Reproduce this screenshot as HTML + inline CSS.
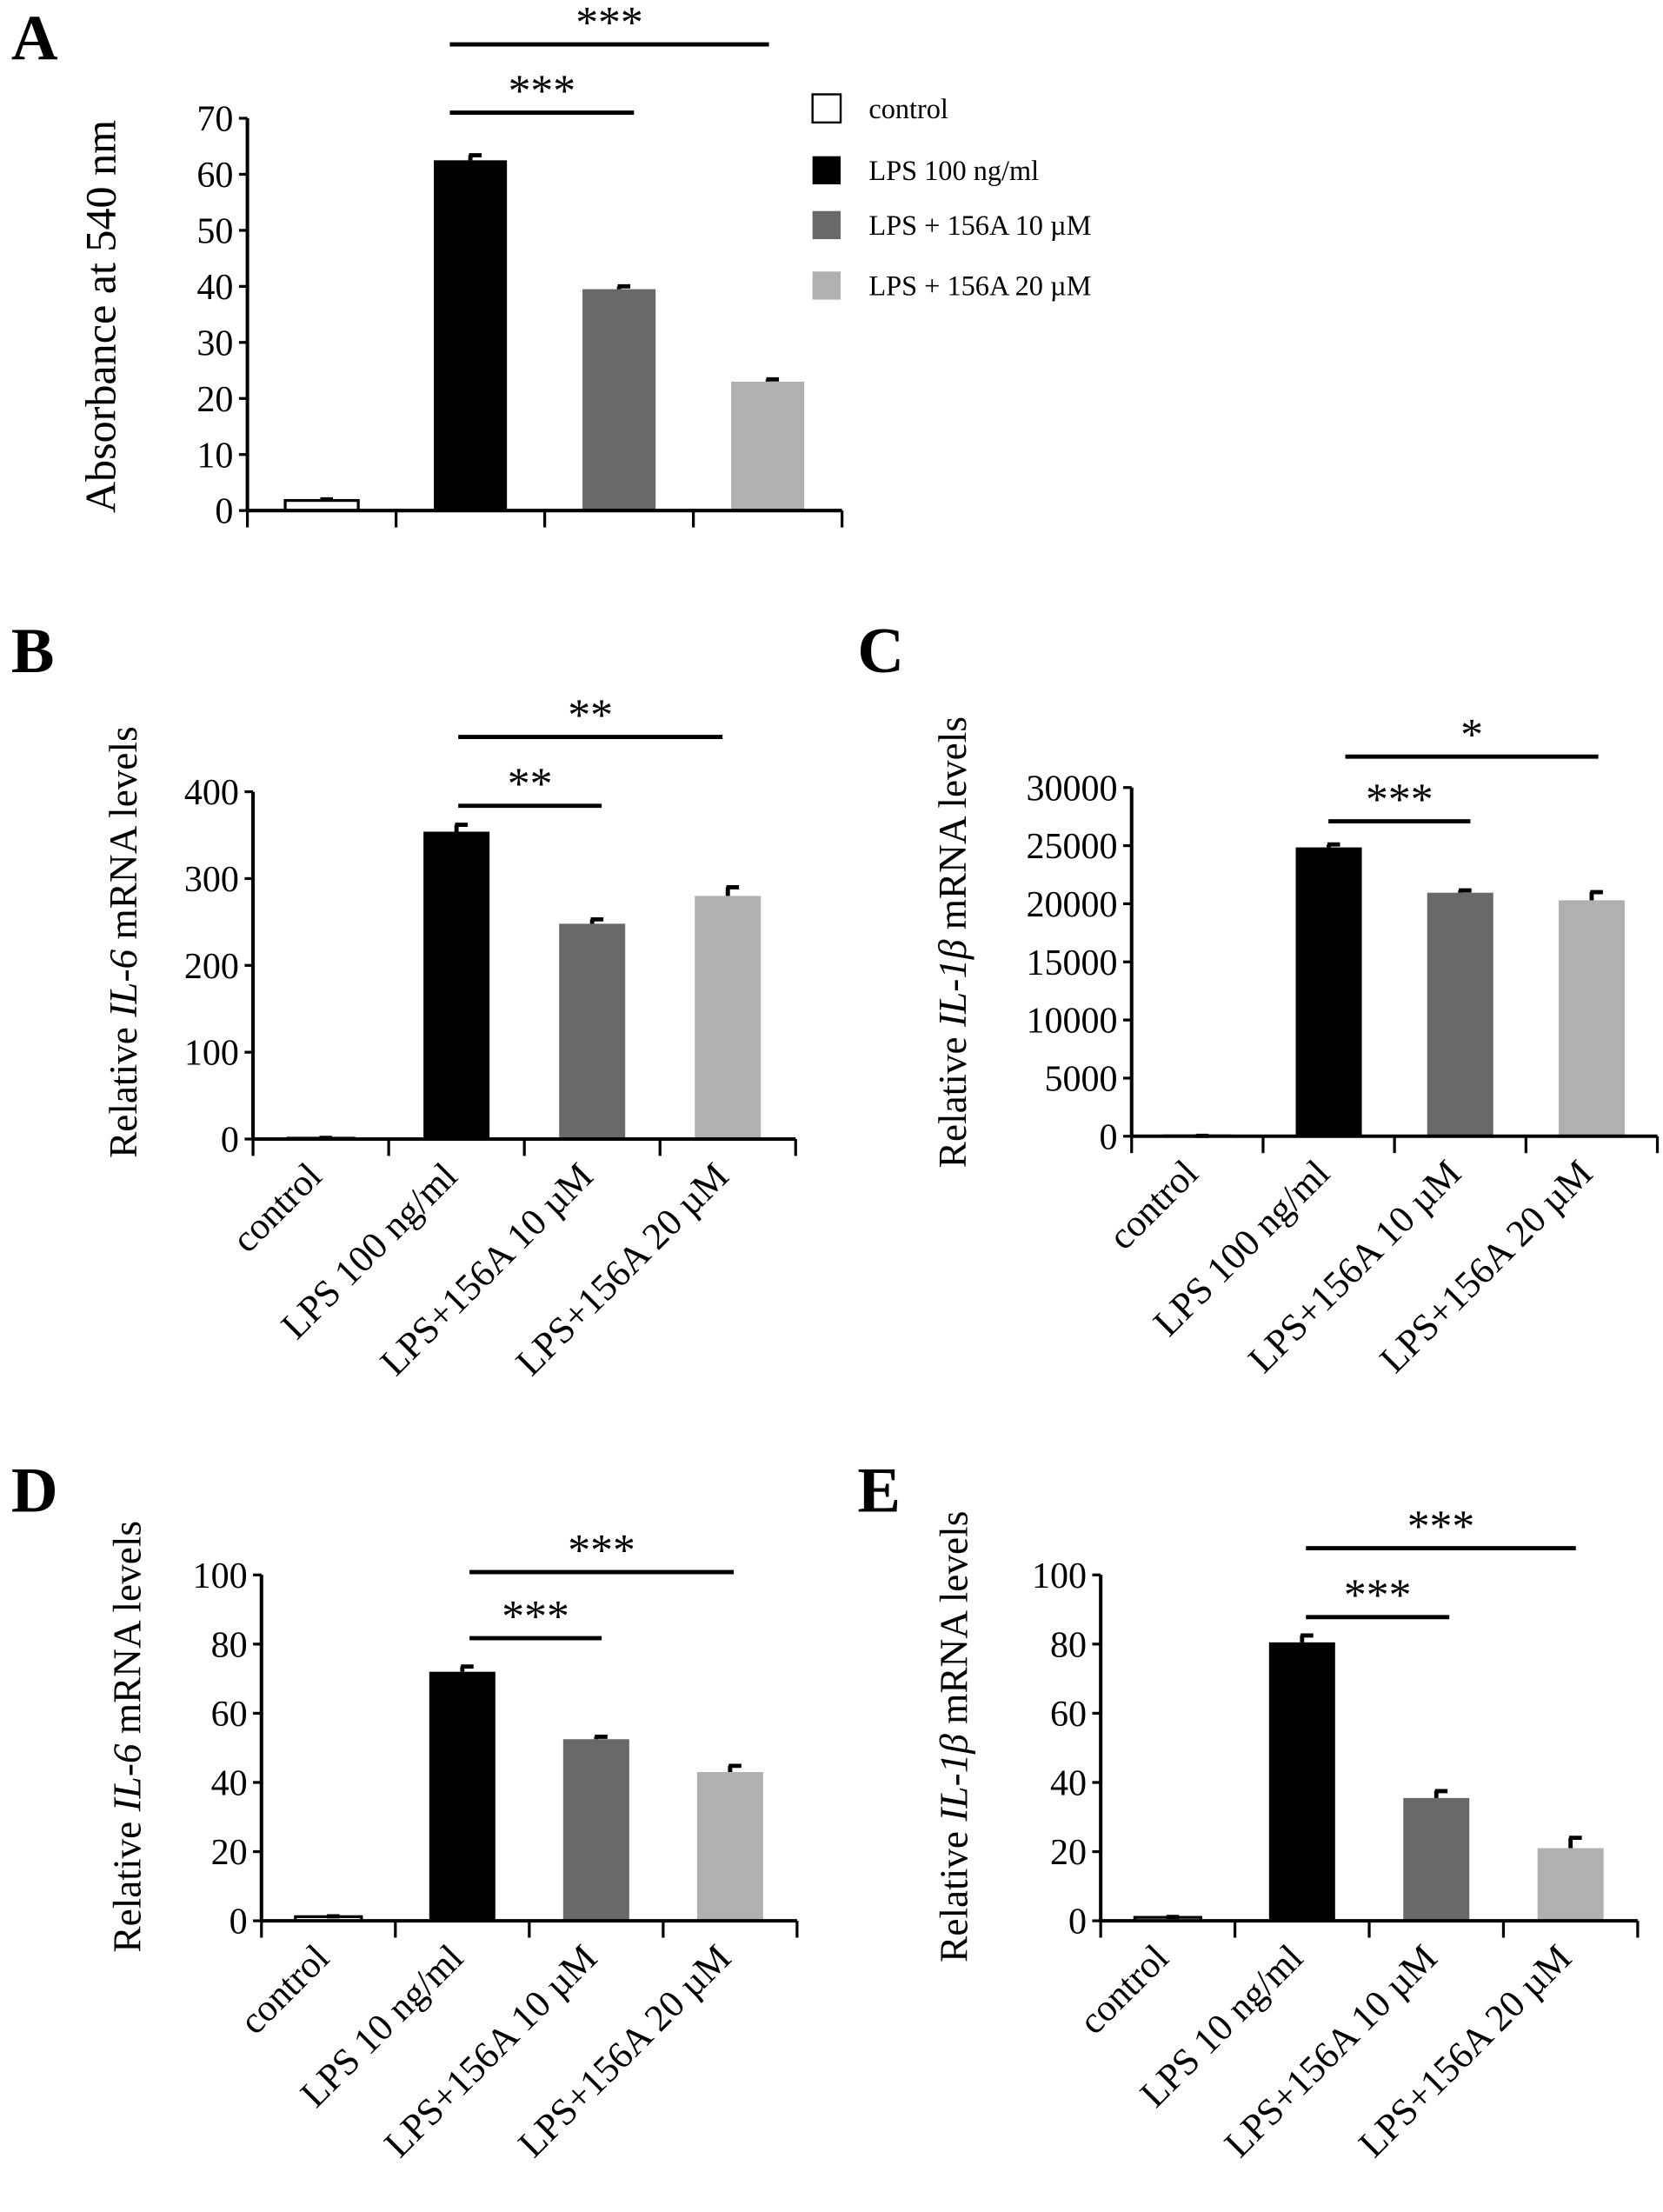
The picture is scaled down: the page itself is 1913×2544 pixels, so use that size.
<!DOCTYPE html>
<html><head><meta charset="utf-8">
<style>
html,body{margin:0;padding:0;background:#fff;}
svg{display:block;font-family:"Liberation Serif",serif;}
</style></head>
<body>
<svg id="fig" width="1913" height="2544" viewBox="0 0 1183 1573" xmlns="http://www.w3.org/2000/svg">
<rect width="1183" height="1573" fill="#fff"/>
<g id="root"></g>
</svg>
<script>
// Panel A data
const aCats = ["control","LPS 100 ng/ml","LPS + 156A 10 µM","LPS + 156A 20 µM"];
const aVals = [1.8, 62.5, 39.5, 23.0];
const aErrs = [0.2, 0.9, 0.5, 0.4];
const aTicks = [0,10,20,30,40,50,60,70];
// Panel B data
const bCats = ["control","LPS 100 ng/ml","LPS+156A 10 µM","LPS+156A 20 µM"];
const bVals = [1, 354, 248, 280];
const bErrs = [0.3, 8, 5, 10];
const bTicks = [0,100,200,300,400];
// Panel C data
const cCats = ["control","LPS 100 ng/ml","LPS+156A 10 µM","LPS+156A 20 µM"];
const cVals = [30, 24850, 20950, 20300];
const cErrs = [5, 250, 200, 700];
const cTicks = [0,5000,10000,15000,20000,25000,30000];
// Panel D data
const dCats = ["control","LPS 10 ng/ml","LPS+156A 10 µM","LPS+156A 20 µM"];
const dVals = [1.2, 72, 52.5, 43];
const dErrs = [0.1, 1.5, 0.7, 1.8];
const dTicks = [0,20,40,60,80,100];
// Panel E data
const eCats = ["control","LPS 10 ng/ml","LPS+156A 10 µM","LPS+156A 20 µM"];
const eVals = [1, 80.5, 35.5, 21];
const eErrs = [0.1, 2, 2, 3];
const eTicks = [0,20,40,60,80,100];
const colors = ["#ffffff","#000000","#696969","#b0b0b0"];

const NS = "http://www.w3.org/2000/svg";
const root = document.getElementById('root');
function mk(tag, attrs, parent){const e=document.createElementNS(NS,tag);for(const k in attrs)e.setAttribute(k,attrs[k]);(parent||root).appendChild(e);return e;}

function panel(cfg){
  const g = mk('g',{});
  
  
  const max = cfg.ticks[cfg.ticks.length-1];
  const y = v => cfg.y0 - (v/max)*(cfg.y0-cfg.yTop);
  const n = cfg.cats.length, step = (cfg.x1-cfg.x0)/n;
  const xc = i => cfg.x0 + step*(i+0.5);
  const L = mk('text',{x:cfg.lx,y:cfg.ly,'font-size':46,'font-weight':'bold'},g);
  L.textContent = cfg.id.toUpperCase();
  
  
  cfg.vals.forEach((v,i)=>{
    const bw = cfg.bw;
    const r = mk('rect',{x:xc(i)-bw/2,y:y(v),width:bw,height:cfg.y0-y(v),fill:colors[i],stroke:i===0?'#000':'none','stroke-width':i===0?2:0},g);
    
    
    const top = y(v+cfg.errs[i]);
    const eb = mk('path',{d:`M${xc(i)} ${y(v)} V${top} M${xc(i)-1} ${top} H${xc(i)+8}`,stroke:'#000','stroke-width':3,fill:'none'},g);
    
    
  });
  const ax = mk('path',{d:`M${cfg.x0} ${cfg.yTop} V${cfg.y0} M${cfg.x0} ${cfg.y0} H${cfg.x1}`,stroke:'#000','stroke-width':2.5,fill:'none'},g);
  
  
  for(let i=0;i<=n;i++){
    const tx = cfg.x0+step*i;
    mk('line',{x1:tx,x2:tx,y1:cfg.y0,y2:cfg.y0+12,stroke:'#000','stroke-width':2},g);
  }
  cfg.ticks.forEach(t=>{
    mk('line',{x1:cfg.x0-6,x2:cfg.x0,y1:y(t),y2:y(t),stroke:'#000','stroke-width':2},g);
    const tl = mk('text',{x:cfg.x0-10,y:y(t)+9,'font-size':26,'text-anchor':'end'},g);
    tl.textContent = t;
    
    
  });
  const yt = mk('text',{transform:`translate(${cfg.ytx},${cfg.yty}) rotate(-90)`,'font-size':cfg.ytfs||28,'text-anchor':'middle'},g);
  yt.innerHTML = cfg.ytitle;
  
  
  if(cfg.xlabels){
    cfg.cats.forEach((c,i)=>{
      const t = mk('text',{transform:`translate(${xc(i)+2},${cfg.y0+28}) rotate(-45)`,'font-size':27,'text-anchor':'end'},g);
      t.textContent = c;
      
      
    });
  }
  cfg.sig.forEach(s=>{
    const l = mk('line',{x1:s[0],x2:s[1],y1:s[2],y2:s[2],stroke:'#000','stroke-width':3},g);
    
    
    const t = mk('text',{x:(s[0]+s[1])/2,y:s[2]-5,'font-size':32,'text-anchor':'middle'},g);
    t.textContent = s[3];
    
    
  });
  return {g,y,xc};
}

panel({id:'a',cats:aCats,vals:aVals,errs:aErrs,ticks:aTicks,x0:176,x1:599,y0:363,yTop:84,bw:52,lx:8,ly:42,
  ytx:82,yty:225,ytfs:31,ytitle:'Absorbance at 540 nm',xlabels:false,
  sig:[[320,451,80,'***'],[320,547,31.5,'***']]});
const lg = mk('g',{});


[77,121,160,203].forEach((yy,i)=>{
  const r = mk('rect',{x:578,y:yy-10,width:20,height:20,fill:colors[i],stroke:i===0?'#000':'none','stroke-width':1.5},lg);
  
  
  const t = mk('text',{x:618,y:yy+7,'font-size':20},lg);
  t.textContent = aCats[i];
  
  
});
panel({id:'b',cats:bCats,vals:bVals,errs:bErrs,ticks:bTicks,x0:180,x1:566,y0:810,yTop:563,bw:47,lx:8,ly:478,
  ytx:97,yty:670,ytitle:'Relative <tspan font-style="italic">IL-6</tspan>  mRNA levels',xlabels:true,
  sig:[[326,428,573,'**'],[326,514,524,'**']]});
panel({id:'c',cats:cCats,vals:cVals,errs:cErrs,ticks:cTicks,x0:805,x1:1179,y0:808,yTop:560,bw:47,lx:610,ly:478,
  ytx:687,yty:670,ytitle:'Relative <tspan font-style="italic">IL-1β</tspan>  mRNA levels',xlabels:true,
  sig:[[945,1046,584,'***'],[957,1137,538,'*']]});
panel({id:'d',cats:dCats,vals:dVals,errs:dErrs,ticks:dTicks,x0:186,x1:567,y0:1366,yTop:1120,bw:47,lx:8,ly:1075,
  ytx:100,yty:1235,ytitle:'Relative <tspan font-style="italic">IL-6</tspan>  mRNA levels',xlabels:true,
  sig:[[334,428,1165,'***'],[334,522,1118,'***']]});
panel({id:'e',cats:eCats,vals:eVals,errs:eErrs,ticks:eTicks,x0:783,x1:1165,y0:1366,yTop:1120,bw:47,lx:610,ly:1075,
  ytx:688,yty:1235,ytitle:'Relative <tspan font-style="italic">IL-1β</tspan>  mRNA levels',xlabels:true,
  sig:[[929,1031,1150,'***'],[929,1121,1101,'***']]});
</script>
</body></html>
